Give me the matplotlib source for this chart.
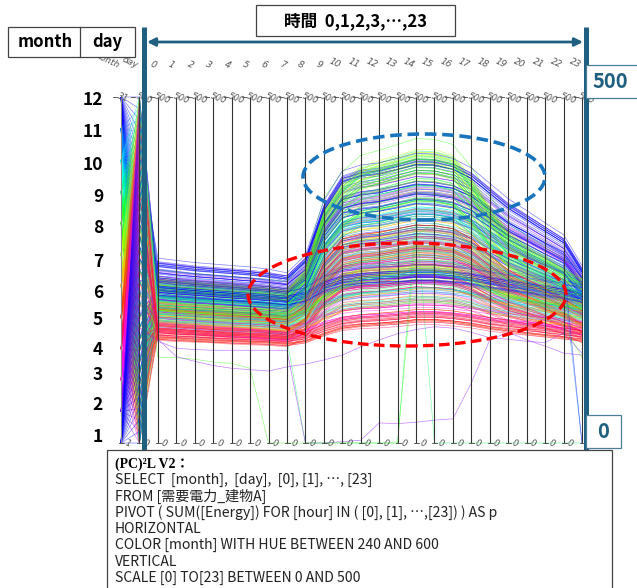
import colorsys
import matplotlib
matplotlib.use("Agg")
import matplotlib.pyplot as plt
import matplotlib.transforms as mtrans
from matplotlib.collections import LineCollection
from matplotlib.patches import Rectangle, Ellipse, FancyArrowPatch
from matplotlib.lines import Line2D

plt.rcParams['font.family'] = ['Noto Sans CJK JP', 'DejaVu Sans']

# ---------------------------------------------------------------- data
axis_names = ["month", "day"] + [str(h) for h in range(24)]
month_range = (1, 12)
day_range = (1, 31)
energy_range = (0, 500)
top_tick_labels = ["31"] + ["500"] * 25
bottom_tick_labels = ["1"] + ["0"] * 25
month_labels = [str(m) for m in range(1, 13)]

# hourly demand profiles per month: three weekday levels and a holiday profile
jan_w1 = [252, 249, 246, 244, 242, 240, 237, 232, 256, 330, 371, 379, 382, 388, 395, 394, 388, 375, 354, 333, 317, 300, 284, 242]
jan_w2 = [235, 232, 229, 227, 225, 223, 221, 218, 239, 303, 339, 346, 349, 354, 360, 358, 354, 343, 325, 306, 292, 278, 263, 228]
jan_w3 = [218, 215, 213, 211, 209, 207, 205, 202, 219, 272, 301, 306, 309, 313, 318, 317, 313, 304, 289, 274, 262, 251, 239, 212]
jan_hol = [225, 223, 221, 219, 217, 215, 213, 210, 216, 232, 240, 243, 245, 246, 248, 248, 246, 243, 238, 234, 230, 226, 222, 215]

feb_w1 = [246, 243, 240, 238, 236, 234, 231, 228, 252, 322, 361, 369, 372, 379, 385, 384, 379, 366, 346, 325, 310, 294, 278, 238]
feb_w2 = [230, 227, 225, 223, 221, 219, 217, 214, 234, 296, 330, 336, 339, 345, 350, 349, 345, 334, 316, 298, 285, 271, 258, 224]
feb_w3 = [212, 209, 207, 205, 203, 201, 199, 197, 213, 262, 289, 294, 296, 301, 305, 304, 301, 292, 278, 264, 253, 242, 232, 206]
feb_hol = [218, 216, 214, 212, 210, 208, 206, 204, 209, 224, 232, 235, 237, 238, 240, 240, 238, 235, 230, 226, 222, 218, 214, 210]

mar_w1 = [202, 199, 197, 195, 193, 191, 189, 186, 202, 248, 274, 280, 282, 286, 290, 289, 286, 274, 257, 240, 230, 219, 209, 196]
mar_w2 = [186, 183, 181, 179, 177, 175, 173, 170, 183, 223, 245, 249, 251, 254, 258, 257, 254, 245, 230, 216, 207, 198, 189, 180]
mar_w3 = [170, 168, 166, 164, 162, 160, 158, 156, 167, 199, 217, 221, 222, 225, 228, 227, 225, 217, 205, 193, 186, 179, 172, 164]
mar_hol = [172, 170, 168, 166, 165, 164, 162, 160, 164, 175, 182, 185, 186, 188, 190, 190, 188, 185, 181, 178, 175, 172, 169, 166]

apr_w1 = [188, 185, 183, 181, 179, 177, 175, 172, 187, 234, 260, 265, 267, 271, 275, 274, 271, 260, 242, 226, 215, 205, 195, 182]
apr_w2 = [170, 168, 166, 164, 162, 161, 159, 157, 169, 207, 228, 232, 233, 237, 240, 239, 237, 228, 213, 200, 192, 184, 175, 166]
apr_w3 = [156, 154, 153, 152, 150, 149, 148, 146, 155, 183, 199, 202, 203, 206, 208, 207, 206, 199, 188, 178, 172, 166, 160, 152]
apr_hol = [158, 156, 155, 153, 152, 151, 150, 148, 152, 163, 171, 174, 175, 177, 180, 180, 178, 175, 170, 167, 164, 161, 158, 155]

may_w1 = [184, 182, 180, 178, 176, 174, 172, 170, 190, 248, 281, 287, 290, 295, 300, 299, 295, 281, 258, 238, 225, 212, 199, 182]
may_w2 = [170, 168, 166, 164, 163, 162, 160, 158, 175, 226, 255, 261, 263, 267, 272, 271, 267, 255, 236, 217, 206, 194, 183, 168]
may_w3 = [158, 156, 155, 154, 152, 151, 150, 148, 162, 203, 226, 231, 233, 236, 240, 239, 236, 226, 211, 196, 187, 177, 168, 154]
may_hol = [156, 155, 153, 152, 151, 150, 149, 147, 151, 162, 171, 175, 177, 179, 182, 182, 180, 176, 171, 167, 163, 160, 157, 153]

jun_w1 = [204, 201, 199, 197, 195, 193, 191, 188, 209, 270, 304, 311, 314, 320, 325, 324, 320, 304, 281, 259, 246, 232, 218, 202]
jun_w2 = [188, 186, 184, 182, 180, 178, 176, 174, 191, 244, 273, 278, 281, 285, 290, 289, 285, 273, 253, 234, 223, 211, 200, 186]
jun_w3 = [172, 170, 168, 167, 165, 164, 162, 160, 174, 215, 238, 243, 245, 248, 252, 251, 248, 238, 223, 208, 199, 189, 180, 168]
jun_hol = [176, 174, 173, 171, 170, 168, 167, 165, 170, 186, 198, 203, 205, 208, 212, 212, 209, 204, 196, 190, 185, 181, 177, 172]

jul_w1 = [226, 223, 221, 219, 217, 215, 213, 210, 239, 320, 356, 377, 385, 392, 400, 400, 392, 362, 324, 290, 271, 256, 240, 228]
jul_w2 = [210, 207, 205, 203, 201, 200, 198, 196, 222, 298, 332, 351, 358, 365, 372, 371, 365, 337, 302, 270, 252, 238, 224, 212]
jul_w3 = [192, 190, 188, 186, 185, 184, 182, 180, 202, 264, 292, 308, 313, 319, 325, 324, 319, 296, 267, 241, 226, 215, 203, 194]
jul_hol = [196, 194, 193, 191, 190, 188, 187, 185, 192, 215, 232, 242, 246, 250, 255, 255, 250, 240, 228, 218, 212, 207, 203, 198]

aug_w1 = [236, 233, 231, 229, 227, 225, 223, 220, 249, 333, 370, 392, 399, 407, 415, 414, 407, 376, 337, 302, 282, 267, 251, 236]
aug_w2 = [218, 215, 213, 211, 209, 208, 206, 204, 232, 312, 347, 368, 375, 383, 390, 389, 383, 353, 316, 282, 264, 249, 234, 220]
aug_w3 = [200, 198, 196, 194, 193, 192, 190, 188, 211, 276, 305, 322, 328, 334, 340, 339, 334, 310, 279, 252, 237, 224, 212, 202]
aug_hol = [204, 202, 200, 198, 197, 196, 194, 192, 200, 224, 242, 252, 257, 262, 268, 268, 262, 250, 237, 226, 219, 214, 210, 205]

sep_w1 = [218, 215, 213, 211, 209, 208, 206, 204, 233, 317, 353, 375, 382, 390, 398, 397, 390, 359, 320, 285, 266, 251, 235, 222]
sep_w2 = [202, 200, 198, 196, 195, 194, 192, 190, 215, 286, 317, 335, 342, 348, 355, 354, 348, 322, 289, 259, 243, 230, 216, 206]
sep_w3 = [188, 186, 185, 183, 182, 181, 179, 177, 197, 255, 281, 296, 301, 307, 312, 311, 307, 285, 258, 234, 220, 209, 199, 190]
sep_hol = [192, 190, 189, 188, 186, 185, 184, 182, 188, 208, 222, 230, 234, 238, 244, 244, 238, 228, 217, 209, 203, 199, 196, 194]

oct_w1 = [205, 203, 201, 199, 197, 196, 194, 192, 212, 272, 305, 312, 314, 320, 325, 324, 320, 305, 282, 261, 248, 235, 221, 210]
oct_w2 = [190, 188, 186, 184, 183, 182, 180, 178, 195, 246, 275, 281, 283, 287, 292, 291, 287, 275, 256, 237, 226, 214, 203, 194]
oct_w3 = [176, 174, 173, 171, 170, 169, 167, 166, 180, 224, 248, 252, 254, 258, 262, 261, 258, 248, 231, 216, 206, 197, 187, 180]
oct_hol = [180, 178, 177, 176, 174, 173, 172, 170, 175, 190, 200, 204, 206, 208, 212, 212, 209, 204, 197, 192, 188, 185, 183, 182]

nov_w1 = [228, 226, 224, 222, 220, 218, 215, 212, 233, 295, 329, 336, 339, 344, 350, 349, 344, 333, 316, 298, 284, 270, 256, 226]
nov_w2 = [212, 210, 208, 206, 204, 202, 200, 198, 216, 270, 300, 306, 308, 313, 318, 317, 313, 304, 288, 272, 260, 248, 236, 210]
nov_w3 = [196, 194, 192, 191, 189, 188, 186, 184, 199, 244, 269, 274, 276, 280, 284, 283, 280, 272, 259, 246, 236, 226, 216, 194]
nov_hol = [202, 200, 198, 197, 196, 194, 192, 190, 196, 212, 220, 224, 226, 228, 230, 230, 228, 225, 220, 216, 212, 208, 204, 200]

dec_w1 = [248, 245, 242, 240, 238, 236, 233, 230, 254, 326, 366, 374, 377, 384, 390, 389, 384, 371, 350, 329, 313, 297, 281, 240]
dec_w2 = [232, 229, 227, 225, 223, 221, 219, 216, 236, 298, 332, 338, 341, 347, 352, 351, 347, 336, 318, 300, 287, 273, 260, 224]
dec_w3 = [214, 212, 210, 208, 206, 204, 202, 200, 217, 267, 295, 301, 303, 308, 312, 311, 308, 299, 284, 269, 258, 247, 236, 208]
dec_hol = [222, 220, 218, 216, 214, 212, 210, 208, 213, 228, 236, 240, 242, 243, 244, 244, 242, 239, 234, 230, 226, 222, 218, 212]

# day-by-day calendar: digit = profile index (0-2 weekday levels, 3 holiday)
cal_jan = "3330121033102013302101331020133"
cal_feb = "0121033102013302110332010133"
cal_mar = "1020133012103312021330211033012"
cal_apr = "301210331020133021013312010333"
cal_may = "3330120331020133021013310201330"
cal_jun = "123301210331020133021013312013"
cal_jul = "2033012103310201330211033120103"
cal_aug = "3301210331020133330210133102013"
cal_sep = "033102103301213302103301201331"
cal_oct = "2103310201330210333102013302101"
cal_nov = "330121033302013310201332013301"
cal_dec = "2103310201330210331020133013333"

# daily demand level relative to the profile, in percent
pct_jan = [2, -3, 5, -1, 4, -6, 0, 3, -2, 6, -4, 1, -5, 2, 7, -3, 0, 4, -1, -6, 3, 5, -2, 1, -4, 6, -3, 2, 0, -5, 4]
pct_feb = [-2, 4, -5, 1, 6, -3, 0, 3, -6, 2, 5, -1, -4, 7, 1, -2, 3, -5, 0, 4, -3, 6, -1, 2, -4, 5, 0, -2]
pct_mar = [3, -4, 1, 6, -2, 0, 5, -5, 2, -1, 4, -6, 3, 0, -3, 6, 1, -4, 2, 5, -2, 0, -5, 4, 1, -3, 6, -1, 3, -6, 2]
pct_apr = [-1, 5, -3, 2, 0, -6, 4, 1, -2, 6, -4, 3, 0, -5, 2, 5, -1, -3, 4, -6, 1, 3, -2, 0, 6, -4, 2, -1, 5, -3]
pct_may = [4, -2, 0, 5, -5, 1, 3, -3, 6, -1, 2, -6, 4, 0, -4, 1, 5, -2, 3, -5, 0, 6, -3, 2, -1, 4, -6, 1, 3, -2, 5]
pct_jun = [0, 3, -4, 6, -1, 2, -5, 4, 1, -3, 5, -2, 0, -6, 3, 6, -4, 1, -1, 2, -5, 4, 0, -3, 5, -2, 1, -6, 3, -1]
pct_jul = [-3, 5, 1, -2, 4, -6, 2, 0, 6, -4, 3, -1, 5, -5, 1, -2, 4, 0, -3, 6, -6, 2, 3, -1, -4, 5, 0, 1, -5, 4, -2]
pct_aug = [1, -4, 6, -2, 3, 0, -5, 5, -1, 2, -3, 4, -6, 1, 3, -2, 6, 0, -4, 2, 5, -1, -3, 4, -5, 1, 0, 6, -2, 3, -6]
pct_sep = [5, -1, -4, 2, 6, -3, 0, 4, -5, 1, 3, -2, -6, 5, 0, 2, -4, 6, -1, 3, -3, 1, 4, -5, 0, -2, 5, -6, 2, -1]
pct_oct = [-4, 2, 5, -1, 0, 3, -6, 4, 1, -3, 6, -2, 2, -5, 0, 5, -1, 3, -4, 1, -6, 4, 2, -2, 6, -3, 0, 1, -5, 3, -1]
pct_nov = [2, -5, 0, 4, -2, 6, -3, 1, 5, -6, 3, -1, 0, 2, -4, 5, -2, 6, -5, 1, 3, -3, 4, 0, -1, -6, 2, 5, -4, 1]
pct_dec = [-1, 3, -6, 5, 0, 2, -3, 4, -4, 6, 1, -2, 3, -5, 0, 5, -1, 2, -6, 4, -3, 1, 6, -2, 0, 3, -5, 2, -4, 1, -1]

# irregular days (outages, missing readings)
feb_outage = [147, 137, 135, 134, 134, 134, 134, 134, 0, 0, 2, 4, 29, 28, 30, 33, 35, 87, 149, 160, 149, 140, 130, 127]
feb_low = [150, 125, 118, 112, 108, 106, 104, 110, 114, 120, 127, 139, 149, 158, 164, 168, 166, 160, 152, 150, 147, 145, 159, 130]
aug_outage = [124, 123, 121, 117, 115, 108, 0, 0, 0, 0, 0, 0, 0, 0, 300, 318, 312, 290, 262, 240, 222, 200, 170, 124]
sep_outage = [190, 186, 183, 180, 178, 176, 172, 150, 0, 0, 0, 0, 0, 0, 330, 0, 0, 0, 0, 0, 0, 0, 0, 0]
nov_last = [212, 210, 208, 206, 204, 202, 200, 198, 216, 270, 300, 306, 308, 313, 318, 317, 313, 304, 288, 272, 260, 248, 236, 0]
dec_last = [232, 229, 227, 225, 223, 221, 219, 216, 236, 298, 332, 338, 341, 347, 352, 351, 347, 336, 318, 300, 287, 273, 260, 0]

profiles = {
    1: [jan_w1, jan_w2, jan_w3, jan_hol], 2: [feb_w1, feb_w2, feb_w3, feb_hol],
    3: [mar_w1, mar_w2, mar_w3, mar_hol], 4: [apr_w1, apr_w2, apr_w3, apr_hol],
    5: [may_w1, may_w2, may_w3, may_hol], 6: [jun_w1, jun_w2, jun_w3, jun_hol],
    7: [jul_w1, jul_w2, jul_w3, jul_hol], 8: [aug_w1, aug_w2, aug_w3, aug_hol],
    9: [sep_w1, sep_w2, sep_w3, sep_hol], 10: [oct_w1, oct_w2, oct_w3, oct_hol],
    11: [nov_w1, nov_w2, nov_w3, nov_hol], 12: [dec_w1, dec_w2, dec_w3, dec_hol],
}
calendars = {1: cal_jan, 2: cal_feb, 3: cal_mar, 4: cal_apr, 5: cal_may, 6: cal_jun,
             7: cal_jul, 8: cal_aug, 9: cal_sep, 10: cal_oct, 11: cal_nov, 12: cal_dec}
day_levels = {1: pct_jan, 2: pct_feb, 3: pct_mar, 4: pct_apr, 5: pct_may, 6: pct_jun,
              7: pct_jul, 8: pct_aug, 9: pct_sep, 10: pct_oct, 11: pct_nov, 12: pct_dec}
special_days = {(2, 11): feb_outage, (2, 23): feb_low, (8, 20): aug_outage,
                (9, 8): sep_outage, (11, 30): nov_last, (12, 31): dec_last}

sql_title = "(PC)²L V2："
sql_lines = [
    "SELECT  [month],  [day],  [0], [1], …, [23]",
    "FROM [需要電力_建物A]",
    "PIVOT ( SUM([Energy]) FOR [hour] IN ( [0], [1], …,[23]) ) AS p",
    "HORIZONTAL",
    "COLOR [month] WITH HUE BETWEEN 240 AND 600",
    "VERTICAL",
    "SCALE [0] TO[23] BETWEEN 0 AND 500",
]

# ---------------------------------------------------------------- layout
W, H, DPI = 637, 588, 100
AX0_PX, AX_STEP_PX = 121.0, 18.44      # x pixel of first axis, axis spacing
Y0_PX, Y1_PX = 443.0, 97.0             # pixel rows of the axis bottom / top
TEAL = "#1f5f80"


def fx(px):
    return px / W


def fy(py):
    return 1 - py / H


fig = plt.figure(figsize=(W / DPI, H / DPI), dpi=DPI)
fig.patch.set_facecolor("white")
ax = fig.add_axes([0, 0, 1, 1])
span = Y0_PX - Y1_PX
ax.set_xlim(-AX0_PX / AX_STEP_PX, (W - AX0_PX) / AX_STEP_PX)
ax.set_ylim((Y0_PX - H) / span, Y0_PX / span)
ax.axis("off")


def norm(v, lo, hi):
    return (v - lo) / (hi - lo)


# ---------------------------------------------------------------- polylines
records = []
for m in range(1, 13):
    for d, code in enumerate(calendars[m], start=1):
        if (m, d) in special_days:
            energy = special_days[(m, d)]
        else:
            level = 1 + day_levels[m][d - 1] / 100
            energy = [v * level for v in profiles[m][int(code)]]
        records.append((m, d, energy))

# interleave months so that no single month hides the others
records.sort(key=lambda r: (r[1], r[0]))

segments, colors = [], []
for m, d, energy in records:
    hue = ((240 + (m - 1) * 360 / 11) % 360) / 360
    rgb = colorsys.hsv_to_rgb(hue, 1, 1)
    ys = [norm(m, *month_range), norm(d, *day_range)] + [norm(v, *energy_range) for v in energy]
    segments.append(list(zip(range(len(axis_names)), ys)))
    colors.append(rgb + (0.5,))
ax.add_collection(LineCollection(segments, colors=colors, linewidths=0.5, zorder=2))

# ---------------------------------------------------------------- parallel axes
n_axes = len(axis_names)
axis_colors = ["#8a8a8a"] + ["#333333"] * (n_axes - 1)
ax.vlines(range(n_axes), 0, 1, colors=axis_colors, linewidth=0.8, zorder=3)


def off(dx, dy):
    return mtrans.offset_copy(ax.transData, fig=fig, x=dx, y=dy, units="dots")


for i, name in enumerate(axis_names):
    ax.text(i, 1, name, transform=off(-2, 31), rotation=-25, rotation_mode="anchor",
            ha="right", va="center", fontsize=6.5, style="italic", color="#555555",
            family=["DejaVu Sans"])
    ax.plot([i - 8 / AX_STEP_PX, i - 4 / AX_STEP_PX], [1, 1], color="#444444", lw=0.6, zorder=3)
    ax.text(i, 1, top_tick_labels[i], transform=off(-3, 1), rotation=-20, rotation_mode="anchor",
            ha="left", va="center", fontsize=6.2, style="italic", color="#555555",
            family=["DejaVu Sans"])
    ax.plot([i - 2 / AX_STEP_PX, i + 3 / AX_STEP_PX], [0, 0], color="#444444", lw=0.6, zorder=3)
    ax.text(i, 0, bottom_tick_labels[i], transform=off(4, 0), rotation=-20, rotation_mode="anchor",
            ha="left", va="center", fontsize=6.2, style="italic", color="#555555",
            family=["DejaVu Sans"])

# month values written large on the left
month_label_rows = [437, 405, 375, 350, 320, 293, 262, 228, 197, 165, 132, 100]
for lab, row in zip(month_labels, month_label_rows):
    fig.text(fx(103), fy(row), lab, ha="right", va="center", fontsize=12.5,
             fontweight="bold", color="black")

# ---------------------------------------------------------------- annotations
tf = fig.transFigure
for xb in (144, 585.5):
    fig.add_artist(Line2D([fx(xb), fx(xb)], [fy(27), fy(451)], color=TEAL, lw=3.6,
                          transform=tf, zorder=6, solid_capstyle="butt"))
fig.add_artist(FancyArrowPatch((fx(147), fy(42)), (fx(583), fy(42)), transform=tf,
                               arrowstyle="<|-|>", mutation_scale=12, lw=2.0,
                               color=TEAL, shrinkA=0, shrinkB=0, zorder=6))

# month / day header box
fig.add_artist(Rectangle((fx(8), fy(57)), 127 / W, 30 / H, transform=tf, fill=True,
                         fc="white", ec="#444444", lw=0.9, zorder=7))
fig.add_artist(Line2D([fx(80), fx(80)], [fy(27), fy(57)], color="#444444", lw=0.9,
                      transform=tf, zorder=8))
fig.text(fx(45), fy(42), "month", ha="center", va="center", fontsize=12,
         fontweight="bold", zorder=8)
fig.text(fx(107), fy(42), "day", ha="center", va="center", fontsize=12,
         fontweight="bold", zorder=8)

# hour header box
fig.add_artist(Rectangle((fx(256), fy(36)), 199 / W, 31 / H, transform=tf, fill=True,
                         fc="white", ec="#444444", lw=0.9, zorder=7))
fig.text(fx(355), fy(21), "時間  0,1,2,3,…,23", ha="center", va="center", fontsize=12,
         fontweight="bold", zorder=8)

# scale boxes
fig.add_artist(Rectangle((fx(586), fy(98)), 52 / W, 33 / H, transform=tf, fill=True,
                         fc="white", ec="#4a7f9a", lw=0.9, zorder=7))
fig.text(fx(610), fy(81), "500", ha="center", va="center", fontsize=14.5,
         fontweight="bold", color=TEAL, zorder=8)
fig.add_artist(Rectangle((fx(586), fy(448)), 35 / W, 33 / H, transform=tf, fill=True,
                         fc="white", ec="#4a7f9a", lw=0.9, zorder=7))
fig.text(fx(603.5), fy(431), "0", ha="center", va="center", fontsize=14.5,
         fontweight="bold", color=TEAL, zorder=8)

# highlight ellipses
fig.add_artist(Ellipse((fx(424), fy(177)), 242 / W, 86 / H, transform=tf, fill=False,
                       ec="#1874bd", lw=2.6, ls=(0, (3.2, 1.6)), zorder=9))
fig.add_artist(Ellipse((fx(407), fy(294.5)), 318 / W, 103 / H, transform=tf, fill=False,
                       ec="#ff0000", lw=2.4, ls=(0, (3.2, 1.6)), zorder=9))

# query text box
fig.add_artist(Rectangle((fx(107), fy(600)), 505 / W, 150 / H, transform=tf, fill=True,
                         fc="white", ec="#444444", lw=0.9, zorder=7))
fig.text(fx(115), fy(464), sql_title, ha="left", va="center", fontsize=10,
         fontweight="bold", family=["Liberation Serif", "Noto Sans CJK JP"], zorder=8)
for k, line in enumerate(sql_lines):
    fig.text(fx(115), fy(480 + k * 16.3), line, ha="left", va="center", fontsize=10.1,
             color="#222222", zorder=8)

fig.savefig("out.png", dpi=DPI)
